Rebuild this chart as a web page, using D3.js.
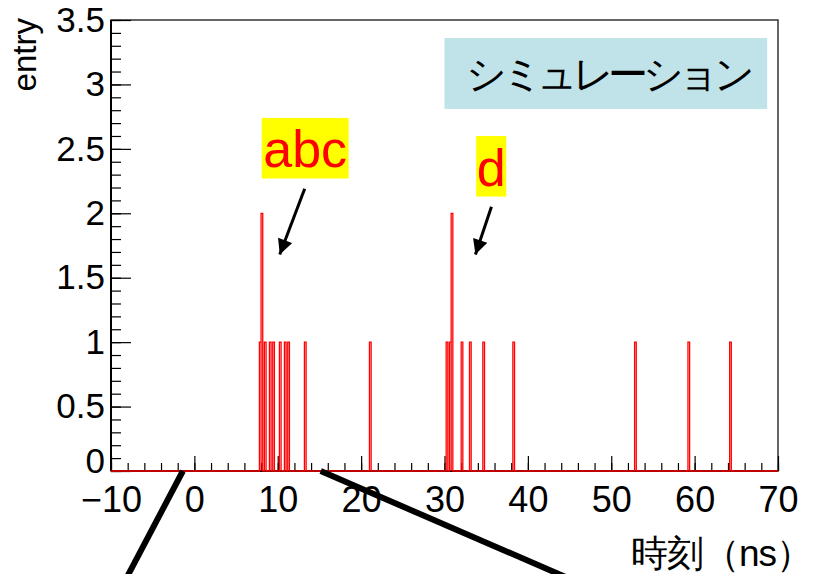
<!DOCTYPE html>
<html>
<head>
<meta charset="utf-8">
<script src="https://cdn.jsdelivr.net/npm/d3@7"></script>
<style>
body { margin: 0; background: #fff; }
text { font-family: "Liberation Sans", Arial, sans-serif; }
</style>
</head>
<body>
<script>

// histogram bins (left edge, ns) and their entries, bin width 0.2 ns
var binWidth = 0.2
var binStarts = [7.8, 8.0, 8.4, 9.0, 9.4, 10.2, 10.8, 11.2, 13.2, 21.0, 30.2, 30.6, 30.8, 32.0, 33.0, 34.6, 38.2, 52.8, 59.2, 64.2]
var binCounts = [1, 2, 1, 1, 1, 1, 1, 1, 1, 1, 1, 1, 2, 1, 1, 1, 1, 1, 1, 1]

var xTicks = [-10, 0, 10, 20, 30, 40, 50, 60, 70]
var yTicks = [0, 0.5, 1, 1.5, 2, 2.5, 3, 3.5]

var W = 817, H = 574
var margin = {top: 20, right: 39, bottom: 103, left: 111}

var svg = d3.select("body").append("svg").attr("width", W).attr("height", H)

var x = d3.scaleLinear().domain([-10, 70]).range([margin.left, W - margin.right])
var y = d3.scaleLinear().domain([0, 3.5]).range([H - margin.bottom, margin.top])

// frame
svg.append("rect")
.attr("x", x(-10)).attr("y", y(3.5))
.attr("width", x(70) - x(-10)).attr("height", y(0) - y(3.5))
.attr("fill", "none").attr("stroke", "#333").attr("stroke-width", 1.5)

// minor + major ticks
var xMinor = d3.range(-10, 70.001, 2)
var yMinor = d3.range(0, 3.5001, 0.1)

svg.append("g")
.attr("transform", "translate(0," + y(0) + ")")
.call(d3.axisBottom(x).tickValues(xMinor).tickSize(-8).tickFormat(""))
.call(g => g.select(".domain").remove())

svg.append("g")
.attr("transform", "translate(0," + y(0) + ")")
.call(d3.axisBottom(x).tickValues(xTicks).tickSize(-15).tickPadding(15).tickFormat(d3.format("d")))
.call(g => g.select(".domain").remove())
.selectAll("text").attr("font-size", 36).attr("fill", "#000").attr("font-family", "Liberation Sans, Arial, sans-serif")

svg.append("g")
.attr("transform", "translate(" + x(-10) + ",0)")
.call(d3.axisLeft(y).tickValues(yMinor).tickSize(-10).tickFormat(""))
.call(g => g.select(".domain").remove())

svg.append("g")
.attr("class", "yaxis")
.attr("transform", "translate(" + x(-10) + ",0)")
.call(d3.axisLeft(y).tickValues(yTicks).tickSize(-20).tickPadding(6).tickFormat(d3.format("")))
.call(g => g.select(".domain").remove())
.selectAll("text").attr("font-size", 35).attr("fill", "#000").attr("font-family", "Liberation Sans, Arial, sans-serif")

// ROOT lifts the "0" label a little off the x axis labels
svg.selectAll(".yaxis .tick").filter(d => d === 0).select("text").attr("y", -10)

svg.selectAll(".tick line").attr("stroke", "#000").attr("stroke-width", 1.2)

// axis lines
svg.append("line").attr("x1", x(-10)).attr("x2", x(-10)).attr("y1", y(0)).attr("y2", y(3.5))
.attr("stroke", "#000").attr("stroke-width", 2)
svg.append("line").attr("x1", x(-10)).attr("x2", x(70)).attr("y1", y(0)).attr("y2", y(0))
.attr("stroke", "#000").attr("stroke-width", 2)

// histogram outline
var pts = [[-10, 0]]
binStarts.forEach(function(s, i) {
  pts.push([s, 0], [s, binCounts[i]], [s + binWidth, binCounts[i]], [s + binWidth, 0])
})
pts.push([70, 0])

svg.append("path")
.attr("d", d3.line().x(d => x(d[0])).y(d => y(d[1]))(pts))
.attr("fill", "none").attr("stroke", "#ff0000").attr("stroke-width", 1.3)

// axis titles
svg.append("text")
.attr("transform", "translate(36," + (y(3.5) - 2) + ") rotate(-90)")
.attr("text-anchor", "end")
.attr("font-size", 33)
.text("entry")

svg.append("text")
.attr("x", 812).attr("y", 566)
.attr("text-anchor", "end")
.attr("font-size", 37)
.attr("font-family", "Noto Sans CJK JP")
.attr("letter-spacing", -1)
.text("時刻（ns）")

// annotation boxes
var simBox = {x0: 30.0, x1: 68.7, y0: 3.36, y1: 2.81, text: "シミュレーション"}
svg.append("rect")
.attr("x", x(simBox.x0)).attr("y", y(simBox.y0))
.attr("width", x(simBox.x1) - x(simBox.x0)).attr("height", y(simBox.y1) - y(simBox.y0))
.attr("fill", "#bfe3e8")
svg.append("text")
.attr("x", (x(simBox.x0) + x(simBox.x1)) / 2 + 2).attr("y", (y(simBox.y0) + y(simBox.y1)) / 2)
.attr("dy", "0.36em")
.attr("text-anchor", "middle")
.attr("font-size", 40)
.attr("font-family", "Noto Sans CJK JP")
.attr("letter-spacing", -5.5)
.text(simBox.text)

var tags = [
  {text: "abc", x0: 8.08, x1: 18.5, y0: 2.74, y1: 2.27},
  {text: "d", x0: 33.8, x1: 37.4, y0: 2.6, y1: 2.13}
]
tags.forEach(function(t) {
  svg.append("rect")
  .attr("x", x(t.x0)).attr("y", y(t.y0))
  .attr("width", x(t.x1) - x(t.x0)).attr("height", y(t.y1) - y(t.y0))
  .attr("fill", "#ffff00")
  svg.append("text")
  .attr("x", (x(t.x0) + x(t.x1)) / 2).attr("y", y(t.y1) - 11)
  .attr("text-anchor", "middle")
  .attr("font-size", 52)
  .attr("fill", "#ff0000")
  .text(t.text)
})

// arrows
svg.append("defs").append("marker")
.attr("id", "head").attr("viewBox", "0 0 10 10")
.attr("refX", 10).attr("refY", 5)
.attr("markerWidth", 6).attr("markerHeight", 5)
.attr("markerUnits", "strokeWidth")
.attr("orient", "auto")
.append("path").attr("d", "M0,0L10,5L0,10z").attr("fill", "#000")

var arrows = [
  {x1: 13.23, y1: 2.19, x2: 10.24, y2: 1.68},
  {x1: 35.63, y1: 2.05, x2: 33.71, y2: 1.68}
]
svg.selectAll(".arrow").data(arrows).enter().append("line")
.attr("class", "arrow")
.attr("x1", d => x(d.x1)).attr("y1", d => y(d.y1))
.attr("x2", d => x(d.x2)).attr("y2", d => y(d.y2))
.attr("stroke", "#000").attr("stroke-width", 3)
.attr("marker-end", "url(#head)")

// thick lines below axis
var bigLines = [
  {x1: -1.38, y1: 0, x2: -8.3, y2: -0.85},
  {x1: 15.15, y1: 0, x2: 45.5, y2: -0.85}
]
svg.selectAll(".big").data(bigLines).enter().append("line")
.attr("class", "big")
.attr("x1", d => x(d.x1)).attr("y1", d => y(d.y1))
.attr("x2", d => x(d.x2)).attr("y2", d => y(d.y2))
.attr("stroke", "#000").attr("stroke-width", 6)

</script>
</body>
</html>
